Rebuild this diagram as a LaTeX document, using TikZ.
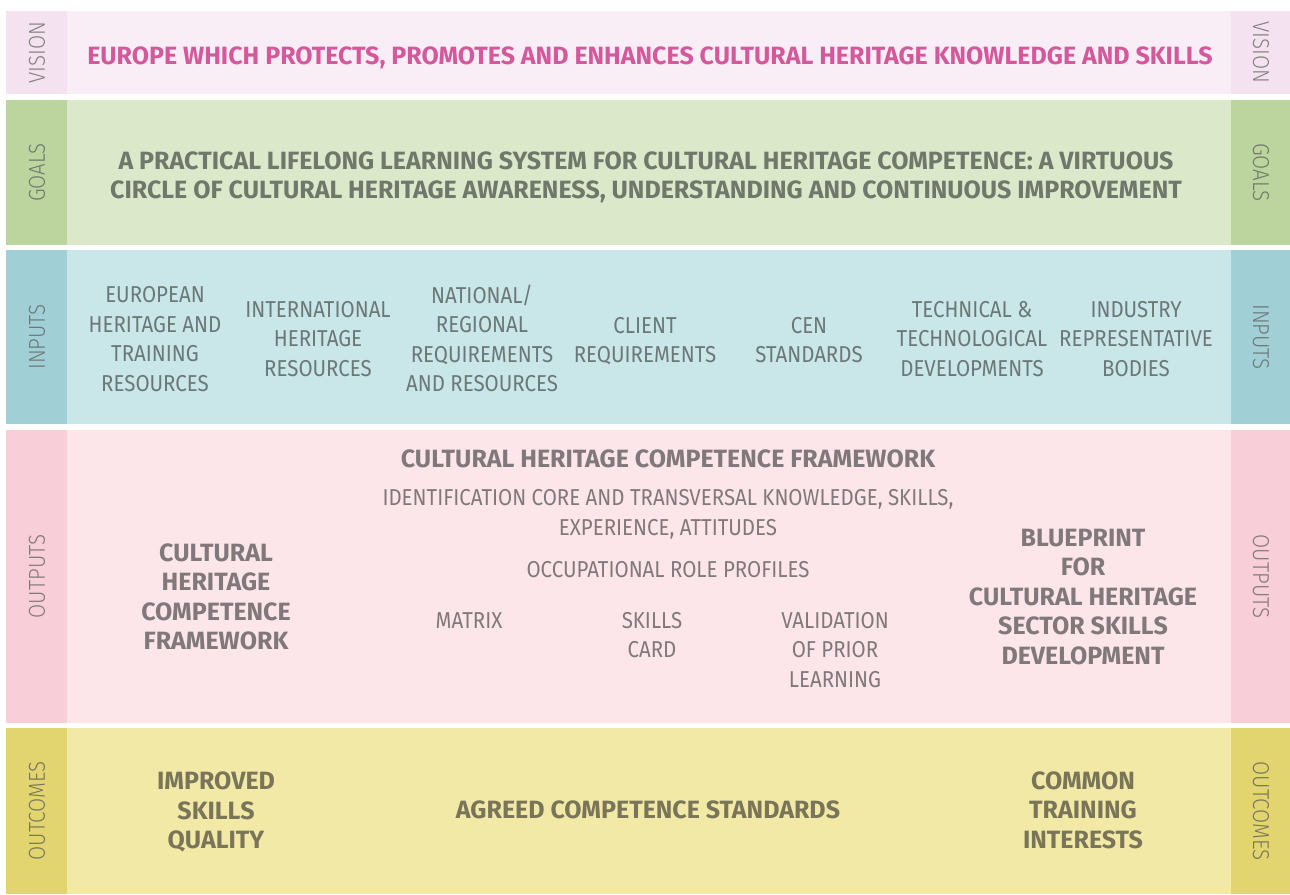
\documentclass[tikz,border=0pt]{standalone}
\usepackage{fontspec}
\setmainfont{Fira Sans}[FakeStretch=0.89]
\newfontfamily\boldfont{Fira Sans}
\newfontfamily\lightfont{Fira Sans Light}[FakeStretch=0.89]
\definecolor{visTab}{RGB}{244,226,241}
\definecolor{visBg}{RGB}{250,238,246}
\definecolor{visTxt}{RGB}{212,88,156}
\definecolor{goaTab}{RGB}{188,213,158}
\definecolor{goaBg}{RGB}{220,232,202}
\definecolor{goaTxt}{RGB}{112,120,108}
\definecolor{inpTab}{RGB}{160,207,213}
\definecolor{inpBg}{RGB}{201,230,233}
\definecolor{inpTxt}{RGB}{108,120,120}
\definecolor{outTab}{RGB}{248,207,216}
\definecolor{outBg}{RGB}{252,230,233}
\definecolor{outTxt}{RGB}{128,120,122}
\definecolor{ocmTab}{RGB}{226,213,111}
\definecolor{ocmBg}{RGB}{241,233,165}
\definecolor{ocmTxt}{RGB}{122,117,89}
\definecolor{tabTxt}{RGB}{118,118,112}
\tikzset{
  reg/.style={align=center,inner sep=0pt,font=\fontsize{23}{29.5}\selectfont},
  bld/.style={align=center,inner sep=0pt,font=\boldfont\fontsize{25}{29.5}\selectfont\bfseries},
  tabl/.style={inner sep=0pt,font=\lightfont\fontsize{23}{26}\selectfont,rotate=90},
  tabr/.style={inner sep=0pt,font=\lightfont\fontsize{23}{26}\selectfont,rotate=-90},
}
\begin{document}
\begin{tikzpicture}[x=1pt,y=-1pt]
\useasboundingbox (0,0) rectangle (1290,894);
% bands
\fill[visTab] (6,11) rectangle (67,94);
\fill[visBg] (67,11) rectangle (1231,94);
\fill[visTab] (1231,11) rectangle (1290,94);
\fill[goaTab] (6,100) rectangle (67,245);
\fill[goaBg] (67,100) rectangle (1231,245);
\fill[goaTab] (1231,100) rectangle (1290,245);
\fill[inpTab] (6,250) rectangle (67,424);
\fill[inpBg] (67,250) rectangle (1231,424);
\fill[inpTab] (1231,250) rectangle (1290,424);
\fill[outTab] (6,430) rectangle (67,723);
\fill[outBg] (67,430) rectangle (1231,723);
\fill[outTab] (1231,430) rectangle (1290,723);
\fill[ocmTab] (6,728) rectangle (67,894);
\fill[ocmBg] (67,728) rectangle (1231,894);
\fill[ocmTab] (1231,728) rectangle (1290,894);
% tab labels
\node[tabl,text=tabTxt!90!visTab] (visL) at (37,52.5) {VISION};
\node[tabr,text=tabTxt!90!visTab] (visR) at (1261,52.5) {VISION};
\node[tabl,text=goaTxt] (goaL) at (37,172.5) {GOALS};
\node[tabr,text=goaTxt] (goaR) at (1261,172.5) {GOALS};
\node[tabl,text=inpTxt] (inpL) at (37,337) {INPUTS};
\node[tabr,text=inpTxt] (inpR) at (1261,337) {INPUTS};
\node[tabl,text=outTxt] (outL) at (37,576.5) {OUTPUTS};
\node[tabr,text=outTxt] (outR) at (1261,576.5) {OUTPUTS};
\node[tabl,text=ocmTxt] (ocmL) at (37,811) {OUTCOMES};
\node[tabr,text=ocmTxt] (ocmR) at (1261,811) {OUTCOMES};
% vision
\node[bld,text=visTxt,anchor=base] (vision) at (650,64) {EUROPE WHICH PROTECTS, PROMOTES AND ENHANCES CULTURAL HERITAGE KNOWLEDGE AND SKILLS};
% goals
\node[bld,text=goaTxt] (goals) at (646,177.5) {A PRACTICAL LIFELONG LEARNING SYSTEM FOR CULTURAL HERITAGE COMPETENCE: A VIRTUOUS\\CIRCLE OF CULTURAL HERITAGE AWARENESS, UNDERSTANDING AND CONTINUOUS IMPROVEMENT};
% inputs
\node[reg,text=inpTxt] (in1) at (155,339) {EUROPEAN\\HERITAGE AND\\TRAINING\\RESOURCES};
\node[reg,text=inpTxt] (in2) at (318,339) {INTERNATIONAL\\HERITAGE\\RESOURCES};
\node[reg,text=inpTxt] (in3) at (482,338.5) {NATIONAL/\\REGIONAL\\REQUIREMENTS\\AND RESOURCES};
\node[reg,text=inpTxt] (in4) at (645,341) {CLIENT\\REQUIREMENTS};
\node[reg,text=inpTxt] (in5) at (809,340) {CEN\\STANDARDS};
\node[reg,text=inpTxt] (in6) at (972,339) {TECHNICAL \&\\TECHNOLOGICAL\\DEVELOPMENTS};
\node[reg,text=inpTxt] (in7) at (1136,339) {INDUSTRY\\REPRESENTATIVE\\BODIES};
% outputs
\node[bld,text=outTxt] (chcf) at (216,597) {CULTURAL\\HERITAGE\\COMPETENCE\\FRAMEWORK};
\node[bld,text=outTxt] (fwtitle) at (668,459) {CULTURAL HERITAGE COMPETENCE FRAMEWORK};
\node[reg,text=outTxt] (ident) at (668,514.5) {IDENTIFICATION CORE AND TRANSVERSAL KNOWLEDGE, SKILLS,\\EXPERIENCE, ATTITUDES};
\node[reg,text=outTxt] (occ) at (668,570) {OCCUPATIONAL ROLE PROFILES};
\node[reg,text=outTxt,anchor=north] (matrix) at (469,612) {MATRIX};
\node[reg,text=outTxt,anchor=north] (card) at (652,612) {SKILLS\\CARD};
\node[reg,text=outTxt,anchor=north] (vpl) at (835,612) {VALIDATION\\OF PRIOR\\LEARNING};
\node[bld,text=outTxt] (blue) at (1083,597) {BLUEPRINT\\FOR\\CULTURAL HERITAGE\\SECTOR SKILLS\\DEVELOPMENT};
% outcomes
\node[bld,text=ocmTxt] (isq) at (216,812) {IMPROVED\\SKILLS\\QUALITY};
\node[bld,text=ocmTxt] (acs) at (648,810) {AGREED COMPETENCE STANDARDS};
\node[bld,text=ocmTxt] (cti) at (1083,810) {COMMON\\TRAINING\\INTERESTS};
\end{tikzpicture}
\end{document}
